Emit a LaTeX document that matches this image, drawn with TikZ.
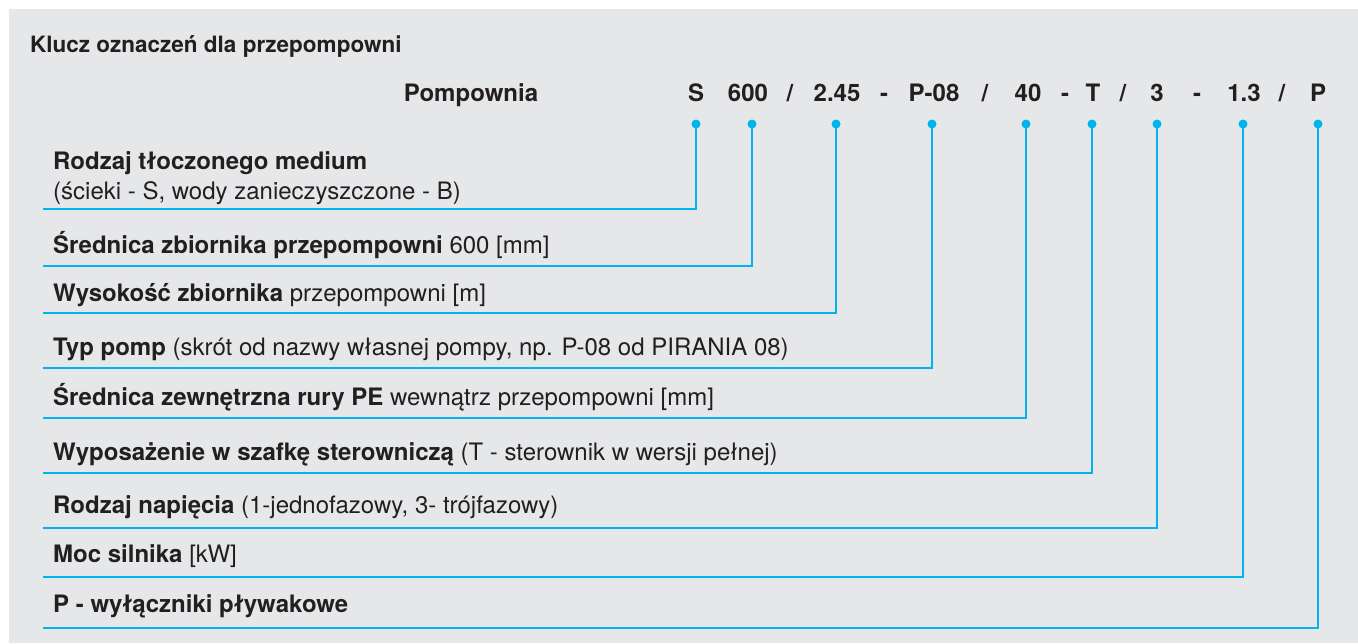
\documentclass[tikz,border=0pt]{standalone}
\usepackage{fontspec}
\setmainfont{TeX Gyre Heros}
\definecolor{bg}{HTML}{E6E7E9}
\definecolor{cy}{HTML}{00B5EC}
\definecolor{tx}{HTML}{231F20}
\begin{document}
\begin{tikzpicture}[x=1pt,y=-1pt,
  lbl/.style={anchor=base west, inner sep=0pt, text=tx, font=\fontsize{24}{30}\selectfont},
  code/.style={anchor=base, inner sep=0pt, text=tx, font=\fontsize{24}{28}\selectfont\bfseries},
  dot/.style={circle, fill=cy, inner sep=0pt, minimum size=9pt},
  conn/.style={draw=cy, line width=2.2pt}]
\useasboundingbox (0,0) rectangle (1358,643);
\fill[white] (0,0) rectangle (1358,643);
\fill[bg] (9,9) rectangle (1358,643);
\node[lbl, font=\fontsize{22.5}{26}\selectfont\bfseries] (title) at (30,52) {Klucz oznaczeń dla przepompowni};
% code line
\node[code] (pomp) at (471,101) {Pompownia};
\node[code] (c1) at (696,101) {S};
\node[code] (c2) at (748,101) {600};
\node[code] (s1) at (790,101) {/};
\node[code] (c3) at (837,101) {2.45};
\node[code] (s2) at (884,101) {-};
\node[code] (c4) at (934,101) {P-08};
\node[code] (s3) at (985,101) {/};
\node[code] (c5) at (1028,101) {40};
\node[code] (s4) at (1065,101) {-};
\node[code] (c6) at (1093,101) {T};
\node[code] (s5) at (1123,101) {/};
\node[code] (c7) at (1157,101) {3};
\node[code] (s6) at (1197,101) {-};
\node[code] (c8) at (1244,101) {1.3};
\node[code] (s7) at (1282,101) {/};
\node[code] (c9) at (1318,101) {P};
% dots
\foreach \i/\x in {1/696,2/752,3/836,4/932,5/1026,6/1092,7/1157,8/1243,9/1318}
  \node[dot] (d\i) at (\x,124) {};
% labels
\node[lbl] (r1) at (53,169) {\textbf{Rodzaj tłoczonego medium}};
\node[lbl] (r1b) at (53,199) {(ścieki - S, wody zanieczyszczone - B)};
\node[lbl] (r2) at (53,253) {\textbf{Średnica zbiornika przepompowni} 600 [mm]};
\node[lbl] (r3) at (53,301) {\textbf{Wysokość zbiornika} przepompowni [m]};
\node[lbl] (r4) at (53,355) {\textbf{Typ pomp} (skrót od nazwy własnej pompy, np. P-08 od PIRANIA 08)};
\node[lbl] (r5) at (53,405) {\textbf{Średnica zewnętrzna rury PE} wewnątrz przepompowni [mm]};
\node[lbl] (r6) at (53,460) {\textbf{Wyposażenie w szafkę sterowniczą} (T - sterownik w wersji pełnej)};
\node[lbl] (r7) at (53,513) {\textbf{Rodzaj napięcia} (1-jednofazowy, 3- trójfazowy)};
\node[lbl] (r8) at (53,562) {\textbf{Moc silnika} [kW]};
\node[lbl] (r9) at (53,612) {\textbf{P - wyłączniki pływakowe}};
% connectors
\foreach \i/\y in {1/209,2/266,3/313,4/368,5/418,6/473,7/528,8/577,9/628}{
  \coordinate (e\i) at (43,\y);
  \draw[conn] (e\i) -| (d\i.center);
}
\end{tikzpicture}
\end{document}
